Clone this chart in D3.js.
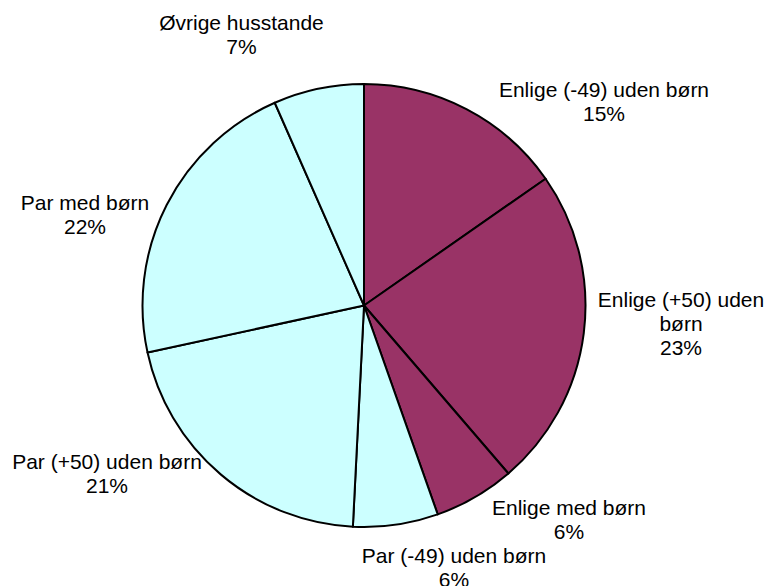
<!DOCTYPE html>
<html>
<head>
<meta charset="utf-8">
<script src="https://cdn.jsdelivr.net/npm/d3@7"></script>
<style>
  body { margin: 0; background: #fff; }
  text { font-family: "Liberation Sans", Arial, sans-serif; font-size: 21px; fill: #000; }
</style>
</head>
<body>
<div id="chart"></div>
<script>
// Data (clockwise from 12 o'clock)
const categories = [
  "Enlige (-49) uden børn",
  "Enlige (+50) uden børn",
  "Enlige med børn",
  "Par (-49) uden børn",
  "Par (+50) uden børn",
  "Par med børn",
  "Øvrige husstande"
];
const shares = [15.3, 23.4, 5.9, 6.2, 20.8, 21.8, 6.6];
const groups = ["enlige", "enlige", "enlige", "par", "par", "par", "par"];

// Layout
const width = 769, height = 586;
const cx = 364, cy = 305.5, radius = 221.5;
const fills = { enlige: "#993366", par: "#CCFFFF" };
const lineHeight = 24;

// label anchors: centre x, first baseline, wrap width
const labelLayout = [
  { x: 604, y: 97, wrap: 260 },
  { x: 681, y: 307, wrap: 175 },
  { x: 569, y: 515, wrap: 260 },
  { x: 454, y: 562.5, wrap: 260 },
  { x: 107, y: 468.5, wrap: 260 },
  { x: 85, y: 209.5, wrap: 260 },
  { x: 241.5, y: 29.5, wrap: 260 }
];

const svg = d3.select("#chart")
  .append("svg")
    .attr("width", width)
    .attr("height", height);

const pie = d3.pie().sort(null).value(d => d.value);
const arc = d3.arc().innerRadius(0).outerRadius(radius);

const rows = categories.map((c, i) => ({ name: c, value: shares[i], group: groups[i] }));

const g = svg.append("g")
  .attr("transform", "translate(" + cx + "," + cy + ")");

g.selectAll("path")
  .data(pie(rows))
  .enter()
  .append("path")
    .attr("d", arc)
    .attr("fill", d => fills[d.data.group])
    .attr("stroke", "#000")
    .attr("stroke-width", 2)
    .attr("stroke-linejoin", "round");

// labels
const total = d3.sum(shares);
rows.forEach((r, i) => {
  const lay = labelLayout[i];
  const t = svg.append("text")
    .attr("text-anchor", "middle");

  // simple word wrap
  const words = r.name.split(" ");
  const lines = [];
  let cur = "";
  const probe = svg.append("text").attr("visibility", "hidden");
  words.forEach(w => {
    const test = cur ? cur + " " + w : w;
    probe.text(test);
    if (probe.node().getComputedTextLength() > lay.wrap && cur) {
      lines.push(cur);
      cur = w;
    } else {
      cur = test;
    }
  });
  lines.push(cur);
  probe.remove();
  lines.push(Math.round(r.value / total * 100) + "%");

  lines.forEach((ln, k) => {
    t.append("tspan")
      .attr("x", lay.x)
      .attr("y", lay.y + k * lineHeight)
      .text(ln);
  });
});
</script>
</body>
</html>
